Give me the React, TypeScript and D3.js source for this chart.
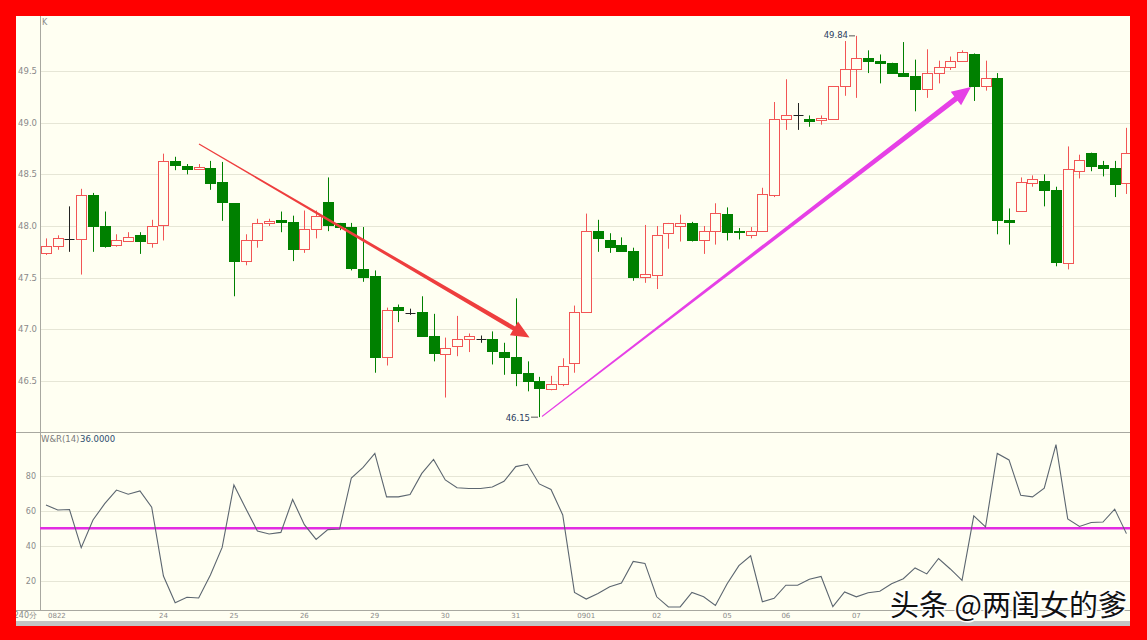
import React from 'react';
import * as d3 from 'd3';

const opens = [47.74,47.81,47.87,47.87,48.30,48.00,47.82,47.85,47.91,47.84,48.01,48.63,48.58,48.55,48.56,48.43,48.22,47.66,47.86,48.03,48.06,48.04,47.78,47.97,48.23,48.03,47.99,47.58,47.52,46.73,47.22,47.16,47.17,46.94,46.76,46.84,46.91,46.91,46.91,46.78,46.73,46.58,46.50,46.42,46.47,46.67,47.17,47.95,47.86,47.82,47.76,47.51,47.53,47.93,48.00,48.03,47.86,47.95,48.12,47.95,47.91,47.95,48.30,49.04,49.07,49.04,49.03,49.04,49.35,49.52,49.63,49.60,49.58,49.48,49.45,49.33,49.48,49.54,49.60,49.66,49.35,49.43,48.06,48.15,48.42,48.44,48.35,47.64,48.53,48.71,48.59,48.56,48.42];
const highs = [47.88,47.91,48.19,48.36,48.32,48.14,47.92,47.94,47.94,48.06,48.70,48.67,48.60,48.60,48.63,48.62,48.22,47.92,48.07,48.07,48.14,48.10,48.15,48.15,48.47,48.03,48.03,47.99,47.57,47.21,47.24,47.20,47.32,47.15,46.92,47.13,46.96,46.94,46.98,46.87,47.30,46.69,46.54,46.55,46.72,47.23,48.12,48.06,47.93,47.89,47.79,48.01,48.00,48.03,48.11,48.04,48.00,48.22,48.18,47.98,47.99,48.37,49.20,49.42,49.19,49.07,49.07,49.35,49.79,49.84,49.70,49.66,49.58,49.78,49.61,49.71,49.60,49.64,49.70,49.67,49.60,49.48,48.17,48.47,48.49,48.50,48.38,48.77,48.69,48.71,48.63,48.63,48.95];
const lows = [47.72,47.77,47.75,47.53,47.75,47.79,47.80,47.85,47.73,47.79,47.86,48.54,48.50,48.55,48.35,48.05,47.32,47.62,47.79,48.00,47.94,47.66,47.74,47.88,47.95,47.96,47.57,47.46,46.58,46.65,47.07,47.14,46.94,46.69,46.34,46.74,46.78,46.87,46.66,46.56,46.45,46.40,46.15,46.41,46.45,46.58,47.17,47.75,47.74,47.75,47.47,47.45,47.39,47.78,47.85,47.85,47.73,47.82,47.86,47.87,47.88,47.95,48.28,48.93,48.93,48.96,48.98,49.04,49.26,49.24,49.48,49.38,49.48,49.45,49.11,49.24,49.38,49.51,49.60,49.21,49.31,47.92,47.82,48.15,48.38,48.19,47.61,47.58,48.46,48.53,48.48,48.28,48.31];
const closes = [47.81,47.88,47.87,48.30,48.00,47.81,47.86,47.89,47.85,48.00,48.63,48.59,48.55,48.57,48.42,48.23,47.66,47.86,48.03,48.05,48.04,47.78,47.97,48.10,48.01,47.99,47.59,47.51,46.73,47.19,47.19,47.16,46.94,46.77,46.82,46.91,46.94,46.91,46.79,46.73,46.58,46.50,46.43,46.47,46.65,47.17,47.95,47.88,47.80,47.76,47.51,47.54,47.91,48.03,48.03,47.86,47.95,48.13,47.94,47.94,47.95,48.31,49.04,49.07,49.07,49.02,49.05,49.35,49.52,49.63,49.60,49.58,49.48,49.45,49.33,49.48,49.54,49.60,49.68,49.35,49.43,48.06,48.04,48.43,48.45,48.35,47.65,48.55,48.64,48.58,48.56,48.41,48.71];
const wrValues = [63.3,60.4,60.7,38.9,54.7,64,71.8,69.4,71.3,62,22.7,7.4,10.5,10.1,23.3,39,74.7,61.4,48.4,46.7,47.6,66.4,52,43.6,49.2,49.5,78.7,84.7,92.7,67.9,67.9,69.2,81.3,89.3,77.6,73.1,72.7,72.7,73.5,76.8,85.2,86.5,75.3,72.1,57.6,13.3,9.5,12.7,16.5,18.7,31,29.9,10.8,5,5,13.3,10.8,5.8,18.3,28.6,34.2,8,9.9,17.4,17.4,20.8,22.4,5.2,13.6,10.8,13.1,14,18.3,21.1,27.3,23.9,32.7,26.7,20.2,57,50.7,92.7,89,68.8,67.9,72.9,97.8,55.3,51,53.3,53.5,60.9,46.9];
const priceTicks = [49.5, 49.0, 48.5, 48.0, 47.5, 47.0, 46.5];
const wrTicks = [80, 60, 40, 20];
const wrLevel = 50;
const dayLabels = ['0822','24','25','26','29','30','31','0901','02','05','06','07'];
const dayIndex = [0,10,16,22,28,34,40,46,52,58,63,69];

const BG = '#FFFFF2';
const UP = '#F25555';
const DOWN = '#008000';
const GRID = '#E6E6D6';
const AXIS = '#A8A8A0';
const LABEL = '#8A8A8A';

function arrowPath(x0: number, y0: number, x1: number, y1: number, w0: number, w1: number, headLen: number, headHalf: number) {
  const dx = x1 - x0, dy = y1 - y0;
  const len = Math.hypot(dx, dy);
  const ux = dx / len, uy = dy / len;
  const nx = -uy, ny = ux;
  const bx = x1 - ux * headLen, by = y1 - uy * headLen;
  const pts = [
    [x0 + nx * w0 / 2, y0 + ny * w0 / 2],
    [bx + nx * w1 / 2, by + ny * w1 / 2],
    [bx + nx * headHalf, by + ny * headHalf],
    [x1, y1],
    [bx - nx * headHalf, by - ny * headHalf],
    [bx - nx * w1 / 2, by - ny * w1 / 2],
    [x0 - nx * w0 / 2, y0 - ny * w0 / 2],
  ];
  return 'M' + pts.map(p => p[0].toFixed(1) + ',' + p[1].toFixed(1)).join('L') + 'Z';
}

export default function App() {
  const W = 1147, H = 640;
  const n = opens.length;
  const x = d3.scaleLinear().domain([0, n - 1]).range([46, 46 + (n - 1) * 11.744]);
  const yP = d3.scaleLinear().domain([46.5, 49.5]).range([381, 71]);
  const yW = d3.scaleLinear().domain([20, 80]).range([580.7, 475.7]);
  const fmt = d3.format('.1f');
  const wrLine = d3.line<number>().x((_, i) => x(i)).y(v => yW(v));

  const plotL = 40, plotR = 1130;
  const monoFont = '"DejaVu Sans", sans-serif';

  const candles = opens.map((o, i) => {
    const c = closes[i];
    const cx = Math.round(x(i)) + 0.5;
    const color = c > o ? UP : c < o ? DOWN : '#222';
    const yh = yP(highs[i]), yl = yP(lows[i]);
    const top = Math.round(yP(Math.max(o, c))) + 0.5;
    const bot = Math.round(yP(Math.min(o, c))) + 0.5;
    return (
      <g key={i}>
        <line x1={cx} x2={cx} y1={yh} y2={yl} stroke={color} strokeWidth={1} />
        {c === o ? (
          <line x1={cx - 5} x2={cx + 5} y1={top} y2={top} stroke={color} strokeWidth={1} />
        ) : (
          <rect x={cx - 5} y={top} width={10} height={Math.max(1, bot - top)}
            fill={c > o ? BG : DOWN} stroke={color} strokeWidth={1} />
        )}
      </g>
    );
  });

  const lowIdx = lows.indexOf(d3.min(lows) as number);
  const highIdx = highs.indexOf(d3.max(highs) as number);

  return (
    <svg width={W} height={H} style={{ position: 'absolute', left: 0, top: 0, display: 'block' }}>
      <rect x={0} y={0} width={W} height={H} fill={BG} />
      {priceTicks.map(t => (
        <g key={'pt' + t}>
          <line x1={plotL} x2={plotR} y1={Math.round(yP(t)) + 0.5} y2={Math.round(yP(t)) + 0.5} stroke={GRID} strokeWidth={1} />
          <text x={37} y={yP(t) + 3} textAnchor="end" fontSize={8.5} fontFamily={monoFont} fill={LABEL}>{fmt(t)}</text>
        </g>
      ))}
      {wrTicks.map(t => (
        <g key={'wt' + t}>
          <line x1={plotL} x2={plotR} y1={Math.round(yW(t)) + 0.5} y2={Math.round(yW(t)) + 0.5} stroke={GRID} strokeWidth={1} />
          <text x={36} y={yW(t) + 3} textAnchor="end" fontSize={8} fontFamily={monoFont} fill={LABEL}>{t}</text>
        </g>
      ))}
      <line x1={40.5} x2={40.5} y1={16} y2={610} stroke={AXIS} strokeWidth={1} />
      <line x1={16} x2={plotR} y1={432.5} y2={432.5} stroke={AXIS} strokeWidth={1} />
      <line x1={16} x2={plotR} y1={610.5} y2={610.5} stroke={AXIS} strokeWidth={1} />

      <text x={42} y={25} fontSize={8} fontFamily={monoFont} fill={LABEL}>K</text>
      <text x={41} y={442} fontSize={8.5} fontFamily={monoFont} fill="#7a7a7a">W&amp;R(14)</text>
      <text x={80} y={442} fontSize={8.5} fontFamily={monoFont} fill="#2d4d70">36.0000</text>

      {candles}

      <text x={530} y={421} textAnchor="end" fontSize={8.5} fontFamily={monoFont} fill="#2d4060">{lows[lowIdx].toFixed(2)}</text>
      <line x1={531} x2={Math.round(x(lowIdx)) - 1} y1={yP(lows[lowIdx])} y2={yP(lows[lowIdx])} stroke="#555" strokeWidth={1} />
      <text x={848} y={38} textAnchor="end" fontSize={8.5} fontFamily={monoFont} fill="#2d4060">{highs[highIdx].toFixed(2)}</text>
      <line x1={849} x2={Math.round(x(highIdx)) - 1} y1={yP(highs[highIdx])} y2={yP(highs[highIdx])} stroke="#555" strokeWidth={1} />

      <path d={arrowPath(199, 144, 529.5, 337.5, 1, 4.5, 18, 8)} fill="#EE3E3E" />
      <path d={arrowPath(542, 416.5, 971, 87, 1, 5.5, 19, 8.5)} fill="#E640E6" />

      <line x1={plotL} x2={plotR} y1={yW(wrLevel)} y2={yW(wrLevel)} stroke="#E22CE2" strokeWidth={2.5} />
      <path d={wrLine(wrValues) || ''} fill="none" stroke="#5C6670" strokeWidth={1.1} />

      {dayLabels.map((d, k) => (
        <text key={d + k} x={k === 0 ? x(dayIndex[k]) + 2 : x(dayIndex[k])} y={618}
          textAnchor={k === 0 ? 'start' : 'middle'} fontSize={7} fontFamily={monoFont} fill={LABEL}>{d}</text>
      ))}
      <text x={37} y={618} textAnchor="end" fontSize={8} fontFamily={monoFont} fill={LABEL}>240分</text>

      <rect x={16} y={621} width={plotR - 16} height={5} fill="#C4C4C4" />

      <text x={890} y={616} fontSize={29} fontFamily='"Noto Sans CJK SC", sans-serif' fill="#111"
        stroke="#fff" strokeWidth={3} style={{ paintOrder: 'stroke' }}>头条 @两闺女的爹</text>

      <rect x={0} y={0} width={W} height={16} fill="#FF0000" />
      <rect x={0} y={0} width={16} height={H} fill="#FF0000" />
      <rect x={1130} y={0} width={W - 1130} height={H} fill="#FF0000" />
      <rect x={0} y={626} width={W} height={H - 626} fill="#FF0000" />
    </svg>
  );
}
